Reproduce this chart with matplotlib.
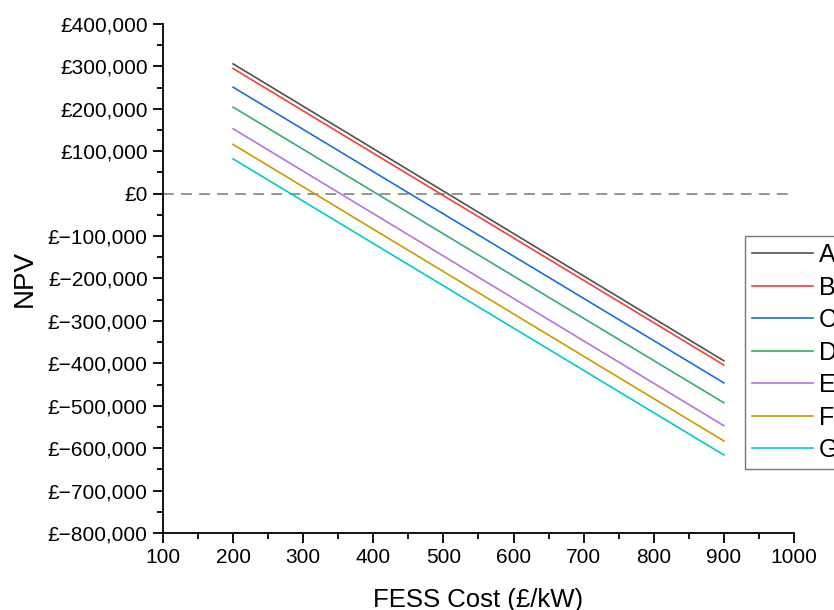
import matplotlib.pyplot as plt
from matplotlib.ticker import FuncFormatter, MultipleLocator

plt.rcParams['font.family'] = ['Liberation Sans', 'DejaVu Sans']

# FESS capital cost (£/kW) at the ends of each sweep
fess_cost = [200, 900]

# NPV (£) for each scenario at those costs
npv_a = [306000, -394000]
npv_b = [295000, -404000]
npv_c = [251000, -446000]
npv_d = [204000, -493000]
npv_e = [153000, -547000]
npv_f = [116000, -583000]
npv_g = [82000, -616000]

labels = ['A', 'B', 'C', 'D', 'E', 'F', 'G']
colors = ['#515151', '#F14040', '#1A6FDF', '#37AD6B', '#B177DE', '#CC9900', '#00CBCC']
series = [npv_a, npv_b, npv_c, npv_d, npv_e, npv_f, npv_g]


def pounds(v, pos):
    s = '{:,.0f}'.format(abs(v))
    return '£−' + s if v < 0 else '£' + s


fig = plt.figure(figsize=(8.34, 6.10), dpi=100)
ax = fig.add_axes([0.1954, 0.1262, 0.7566, 0.8345])

for vals, lab, col in zip(series, labels, colors):
    ax.plot(fess_cost, vals, color=col, lw=1.2, label=lab)

# break-even line
ax.axhline(0, xmax=0.995, color='#8c8c8c', lw=1.3, ls=(0, (6, 4)), zorder=0)

ax.set_xlim(100, 1000)
ax.set_ylim(-800000, 400000)
ax.xaxis.set_major_locator(MultipleLocator(100))
ax.xaxis.set_minor_locator(MultipleLocator(50))
ax.yaxis.set_major_locator(MultipleLocator(100000))
ax.yaxis.set_minor_locator(MultipleLocator(50000))
ax.yaxis.set_major_formatter(FuncFormatter(pounds))

for side in ['top', 'right']:
    ax.spines[side].set_visible(False)
for side in ['left', 'bottom']:
    ax.spines[side].set_linewidth(1.3)

ax.tick_params(which='major', direction='out', length=7, width=1.3, labelsize=15, pad=4)
ax.tick_params(which='minor', direction='out', length=4, width=1.3)

ax.set_xlabel('FESS Cost (£/kW)', fontsize=18.5, labelpad=15)
ax.set_ylabel('NPV', fontsize=20, labelpad=7)

leg = ax.legend(loc='upper left', bbox_to_anchor=(745 / 834, 1 - 236 / 610),
                bbox_transform=fig.transFigure, fontsize=18, frameon=True,
                fancybox=False, borderaxespad=0, handlelength=2.45,
                handletextpad=0.22, labelspacing=0.34, borderpad=0.28)
leg.get_frame().set_edgecolor('#555555')
leg.get_frame().set_linewidth(1.0)

fig.savefig('out.png', dpi=100)
